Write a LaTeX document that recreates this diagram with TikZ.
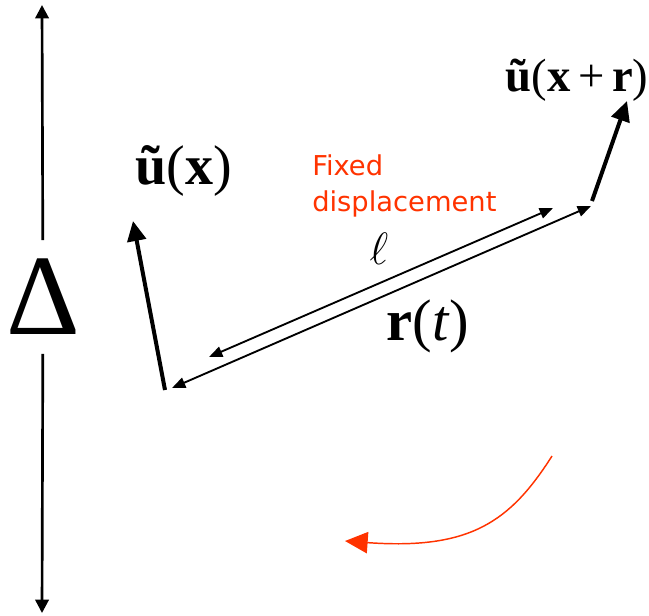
\documentclass[tikz,border=0pt]{standalone}
\usepackage{fix-cm}
\usepackage{fontspec}
\setmainfont{Liberation Serif}
\newfontfamily\dispfont{DejaVu Sans}
\usetikzlibrary{arrows.meta}
\definecolor{dispred}{RGB}{255,51,0}
\tikzset{
  axisarr/.style={line width=2pt, -{Triangle[length=10pt,width=10pt]}},
  thinarr/.style={line width=1.4pt, {Triangle[length=10pt,width=8pt]}-{Triangle[length=10pt,width=8pt]}},
  thickarr/.style={line width=3pt, -{Triangle[length=15pt,width=14pt]}},
  curvearr/.style={dispred, line width=1.1pt, -{Triangle[length=17pt,width=16pt]}},
}
\begin{document}
\begin{tikzpicture}[x=0.75pt,y=-0.75pt]
    \useasboundingbox (0,0) rectangle (649,615);

    % Height scale on the left
    \node[inner sep=14pt] (delta) at (43,297) {\fontsize{86}{86}\selectfont Δ};
    \coordinate (dtop) at (42,5);
    \coordinate (dbot) at (42,613);
    \draw[axisarr] (delta) -- (dtop);
    \draw[axisarr] (delta) -- (dbot);

    % Velocity at the first point
    \coordinate (ux0) at (165,390);
    \coordinate (ux1) at (133,221);
    \draw[thickarr] (ux0) -- (ux1);
    \node (ulab) at (184,171) {\fontsize{42}{46}\selectfont\textbf{ũ}(\textbf{x})};

    % Velocity at the second point
    \coordinate (ur0) at (592,201);
    \coordinate (ur1) at (627,101);
    \draw[thickarr] (ur0) -- (ur1);
    \node (urlab) at (577,80) {\fontsize{35}{40}\selectfont\textbf{ũ}(\textbf{x}\,+\,\textbf{r})};

    % Separation vectors
    \coordinate (ra) at (172,388);
    \coordinate (rb) at (591,206);
    \draw[thinarr] (ra) -- (rb);
    \coordinate (la) at (209,357);
    \coordinate (lb) at (553,208);
    \draw[thinarr] (la) -- (lb);

    \node (rlab) at (428,326) {\fontsize{44}{48}\selectfont\textbf{r}(\textit{t})};
    \node (elllab) at (379,249) {\fontsize{34}{38}\selectfont$\ell$};
    \node[anchor=north west, inner sep=0pt, align=left, text=dispred,
          font=\dispfont\fontsize{20.5}{27}\selectfont] (fixed) at (312,154)
      {Fixed\\displacement};

    % Rotation of the pair
    \coordinate (rot0) at (552,456);
    \coordinate (rot1) at (345,541);
    \draw[curvearr] (rot0) .. controls (510,522) and (470,550) .. (rot1);
\end{tikzpicture}
\end{document}
